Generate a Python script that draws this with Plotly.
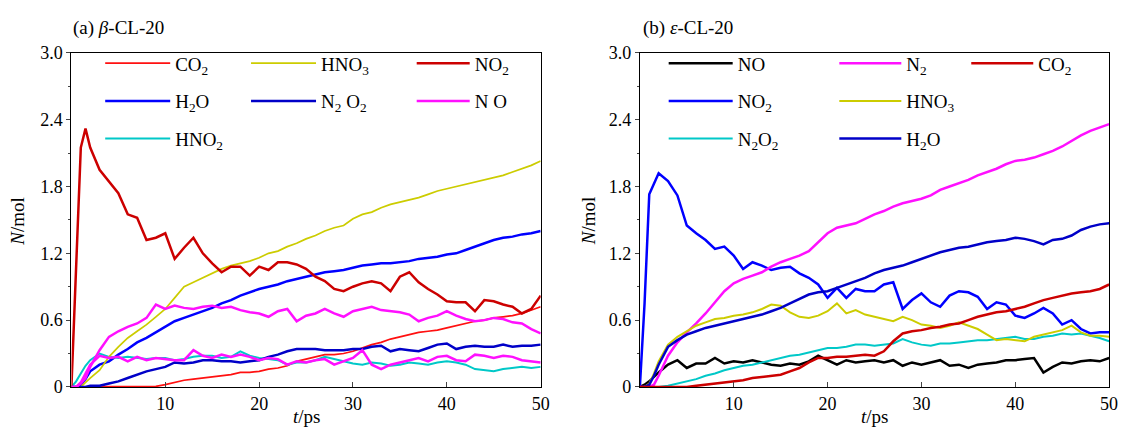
import plotly.graph_objects as go

# time axis (ps)
t = [0, 0.5, 1, 1.5, 2] + list(range(3, 51))

# ---------- panel (a) beta-CL-20 ----------
a_CO2 = [0, 0, 0, 0, 0, 0, 0, 0, 0, 0, 0, 0.005, 0.02, 0.04, 0.06, 0.07, 0.08, 0.09, 0.10, 0.11,
         0.13, 0.13, 0.14, 0.16, 0.17, 0.19, 0.23, 0.25, 0.27, 0.29, 0.29, 0.30, 0.32, 0.35, 0.38,
         0.40, 0.43, 0.45, 0.47, 0.49, 0.50, 0.51, 0.53, 0.55, 0.57, 0.59, 0.60, 0.62, 0.63, 0.64,
         0.66, 0.69, 0.72]
a_HNO3 = [0, 0, 0, 0.04, 0.08, 0.15, 0.27, 0.36, 0.44, 0.50, 0.56, 0.63, 0.70, 0.80, 0.90, 0.94,
          0.98, 1.02, 1.06, 1.09, 1.11, 1.13, 1.16, 1.20, 1.22, 1.26, 1.29, 1.33, 1.36, 1.40, 1.43,
          1.45, 1.51, 1.55, 1.57, 1.61, 1.64, 1.66, 1.68, 1.70, 1.73, 1.76, 1.78, 1.80, 1.82, 1.84,
          1.86, 1.88, 1.90, 1.93, 1.96, 1.99, 2.03]
a_NO2 = [0, 1.10, 2.15, 2.32, 2.15, 1.95, 1.85, 1.74, 1.55, 1.52, 1.32, 1.34, 1.38, 1.15, 1.25,
         1.34, 1.20, 1.11, 1.03, 1.08, 1.08, 1.00, 1.08, 1.05, 1.12, 1.12, 1.10, 1.06, 0.99, 0.95,
         0.88, 0.86, 0.90, 0.93, 0.95, 0.93, 0.86, 0.99, 1.03, 0.94, 0.88, 0.83, 0.77, 0.76, 0.76,
         0.68, 0.78, 0.77, 0.74, 0.72, 0.66, 0.70, 0.82]
a_H2O = [0, 0, 0.02, 0.07, 0.14, 0.20, 0.23, 0.29, 0.34, 0.40, 0.44, 0.49, 0.54, 0.59, 0.62, 0.65,
         0.68, 0.71, 0.75, 0.78, 0.82, 0.85, 0.88, 0.90, 0.92, 0.95, 0.97, 0.99, 1.01, 1.03, 1.04,
         1.05, 1.07, 1.09, 1.10, 1.11, 1.11, 1.12, 1.13, 1.15, 1.16, 1.17, 1.19, 1.20, 1.23, 1.26,
         1.29, 1.32, 1.34, 1.35, 1.37, 1.38, 1.40]
a_N2O2 = [0, 0, 0, 0, 0.01, 0.01, 0.03, 0.05, 0.08, 0.11, 0.14, 0.16, 0.18, 0.22, 0.21, 0.22, 0.24,
          0.24, 0.23, 0.23, 0.22, 0.23, 0.24, 0.27, 0.29, 0.32, 0.34, 0.34, 0.34, 0.33, 0.33, 0.33,
          0.34, 0.34, 0.36, 0.37, 0.32, 0.34, 0.33, 0.32, 0.35, 0.38, 0.39, 0.34, 0.36, 0.37, 0.36,
          0.36, 0.38, 0.36, 0.37, 0.37, 0.38]
a_NO = [0, 0, 0.03, 0.08, 0.18, 0.33, 0.45, 0.50, 0.54, 0.57, 0.62, 0.74, 0.70, 0.73, 0.71, 0.70,
        0.72, 0.73, 0.71, 0.72, 0.69, 0.67, 0.66, 0.63, 0.68, 0.70, 0.59, 0.64, 0.66, 0.70, 0.66,
        0.63, 0.68, 0.70, 0.72, 0.69, 0.68, 0.67, 0.65, 0.59, 0.62, 0.64, 0.68, 0.64, 0.61, 0.59,
        0.60, 0.62, 0.61, 0.58, 0.57, 0.52, 0.48]
a_NO_low = [0, 0, 0.04, 0.12, 0.20, 0.28, 0.26, 0.27, 0.23, 0.27, 0.24, 0.26, 0.25, 0.24, 0.24,
            0.33, 0.28, 0.26, 0.29, 0.27, 0.29, 0.27, 0.24, 0.26, 0.25, 0.20, 0.23, 0.22, 0.24,
            0.25, 0.20, 0.23, 0.26, 0.33, 0.20, 0.16, 0.20, 0.22, 0.24, 0.26, 0.23, 0.27, 0.28,
            0.24, 0.23, 0.29, 0.28, 0.26, 0.28, 0.27, 0.24, 0.23, 0.22]
a_HNO2 = [0, 0.05, 0.12, 0.19, 0.24, 0.30, 0.27, 0.26, 0.27, 0.26, 0.25, 0.26, 0.26, 0.24, 0.25,
          0.27, 0.28, 0.28, 0.26, 0.27, 0.32, 0.28, 0.26, 0.25, 0.24, 0.20, 0.22, 0.22, 0.24, 0.27,
          0.25, 0.23, 0.21, 0.20, 0.22, 0.21, 0.19, 0.20, 0.22, 0.21, 0.20, 0.22, 0.23, 0.22, 0.20,
          0.16, 0.15, 0.14, 0.16, 0.17, 0.18, 0.17, 0.18]

# ---------- panel (b) epsilon-CL-20 ----------
b_NO = [0, 0.02, 0.05, 0.09, 0.13, 0.20, 0.24, 0.17, 0.21, 0.21, 0.26, 0.21, 0.23, 0.22, 0.24,
        0.22, 0.20, 0.19, 0.21, 0.20, 0.23, 0.28, 0.24, 0.20, 0.24, 0.22, 0.23, 0.24, 0.22, 0.24,
        0.19, 0.22, 0.20, 0.22, 0.24, 0.19, 0.20, 0.17, 0.20, 0.21, 0.22, 0.24, 0.24, 0.25, 0.26,
        0.13, 0.18, 0.22, 0.21, 0.23, 0.24, 0.23, 0.26]
b_N2 = [0, 0, 0, 0.02, 0.10, 0.28, 0.40, 0.49, 0.57, 0.66, 0.76, 0.86, 0.93, 0.97, 1.00, 1.03,
        1.08, 1.12, 1.15, 1.18, 1.22, 1.30, 1.38, 1.43, 1.45, 1.47, 1.51, 1.55, 1.58, 1.62, 1.65,
        1.67, 1.69, 1.72, 1.77, 1.80, 1.83, 1.86, 1.90, 1.93, 1.96, 2.00, 2.03, 2.04, 2.06, 2.09,
        2.12, 2.16, 2.21, 2.26, 2.30, 2.33, 2.36]
b_CO2 = [0, 0, 0, 0, 0, 0, 0, 0, 0.01, 0.02, 0.03, 0.04, 0.05, 0.06, 0.08, 0.09, 0.10, 0.11, 0.14,
         0.17, 0.22, 0.26, 0.26, 0.27, 0.27, 0.28, 0.29, 0.28, 0.32, 0.41, 0.48, 0.50, 0.51, 0.53,
         0.54, 0.56, 0.57, 0.60, 0.63, 0.65, 0.67, 0.68, 0.70, 0.72, 0.75, 0.78, 0.80, 0.82, 0.84,
         0.85, 0.86, 0.88, 0.92]
b_NO2 = [0, 0.75, 1.73, 1.82, 1.92, 1.85, 1.72, 1.45, 1.38, 1.32, 1.24, 1.26, 1.18, 1.06, 1.12,
         1.09, 1.05, 1.07, 1.08, 1.02, 0.98, 0.92, 0.80, 0.89, 0.80, 0.88, 0.86, 0.86, 0.92, 0.94,
         0.70, 0.78, 0.84, 0.76, 0.72, 0.82, 0.86, 0.85, 0.81, 0.70, 0.76, 0.74, 0.64, 0.62, 0.66,
         0.71, 0.66, 0.56, 0.60, 0.52, 0.48, 0.49, 0.49]
b_HNO3 = [0, 0, 0.03, 0.12, 0.23, 0.38, 0.45, 0.50, 0.55, 0.58, 0.61, 0.62, 0.64, 0.65, 0.67,
          0.70, 0.74, 0.73, 0.67, 0.63, 0.62, 0.64, 0.68, 0.75, 0.66, 0.69, 0.65, 0.63, 0.61, 0.59,
          0.63, 0.60, 0.56, 0.55, 0.53, 0.55, 0.58, 0.55, 0.52, 0.47, 0.42, 0.43, 0.42, 0.41, 0.45,
          0.47, 0.49, 0.51, 0.55, 0.49, 0.46, 0.46, 0.45]
b_N2O2 = [0, 0, 0, 0, 0, 0.01, 0.03, 0.05, 0.07, 0.10, 0.12, 0.15, 0.17, 0.19, 0.20, 0.22, 0.24,
          0.26, 0.28, 0.29, 0.31, 0.33, 0.35, 0.35, 0.36, 0.38, 0.38, 0.37, 0.38, 0.39, 0.43, 0.40,
          0.38, 0.37, 0.39, 0.39, 0.40, 0.41, 0.42, 0.42, 0.43, 0.44, 0.45, 0.43, 0.43, 0.45, 0.46,
          0.48, 0.47, 0.48, 0.46, 0.44, 0.41]
b_H2O = [0, 0, 0.02, 0.10, 0.20, 0.36, 0.42, 0.47, 0.50, 0.53, 0.55, 0.57, 0.59, 0.61, 0.63, 0.65,
         0.68, 0.71, 0.75, 0.79, 0.83, 0.85, 0.86, 0.89, 0.92, 0.95, 0.98, 1.02, 1.05, 1.07, 1.09,
         1.12, 1.15, 1.18, 1.21, 1.23, 1.25, 1.26, 1.28, 1.30, 1.31, 1.32, 1.34, 1.33, 1.31, 1.28,
         1.32, 1.33, 1.36, 1.41, 1.44, 1.46, 1.47]

x_ticks = [10, 20, 30, 40, 50]
y_ticks = [0, 0.6, 1.2, 1.8, 2.4, 3.0]
y_labels = ["0", "0.6", "1.2", "1.8", "2.4", "3.0"]

FONT = "Liberation Serif"
W, H = 1132, 437

fig = go.Figure()

# (name, data, colour, width, xaxis, legend)
series = [
    ("CO<sub>2</sub>", a_CO2, "#ff1010", 1.7, "x", "legend"),
    ("H<sub>2</sub>O", a_H2O, "#0000ff", 2.5, "x", "legend"),
    ("HNO<sub>2</sub>", a_HNO2, "#00c8c8", 2.0, "x", "legend"),
    ("HNO<sub>3</sub>", a_HNO3, "#cccc00", 1.7, "x", "legend2"),
    ("N<sub>2</sub> O<sub>2</sub>", a_N2O2, "#0000c8", 2.5, "x", "legend2"),
    ("NO<sub>2</sub>", a_NO2, "#cc0000", 2.5, "x", "legend3"),
    ("N O", a_NO, "#ff10ff", 2.5, "x", "legend3"),
    ("N O (2)", a_NO_low, "#ff10ff", 2.5, "x", None),
    ("NO", b_NO, "#000000", 2.5, "x2", "legend4"),
    ("NO<sub>2</sub>", b_NO2, "#0000ff", 2.5, "x2", "legend4"),
    ("N<sub>2</sub>O<sub>2</sub>", b_N2O2, "#00c8c8", 2.0, "x2", "legend4"),
    ("N<sub>2</sub>", b_N2, "#ff10ff", 2.5, "x2", "legend5"),
    ("HNO<sub>3</sub>", b_HNO3, "#cccc00", 2.0, "x2", "legend5"),
    ("H<sub>2</sub>O", b_H2O, "#0000c8", 2.5, "x2", "legend5"),
    ("CO<sub>2</sub>", b_CO2, "#cc0000", 2.5, "x2", "legend6"),
]

for i, (name, y, col, lw, xa, lg) in enumerate(series):
    fig.add_trace(go.Scatter(
        x=t, y=y, mode="lines", name=name,
        line=dict(color=col, width=lw),
        xaxis=xa, yaxis="y" if xa == "x" else "y2",
        legend=lg if lg else "legend",
        showlegend=lg is not None,
        legendgroup=f"g{i}",
    ))

def px_x(p):
    return p / W

def px_y(p):
    return 1 - p / H

ya0, ya1 = px_y(395), px_y(45)
axis_common = dict(
    showline=True, linecolor="black", linewidth=1.2, mirror=True,
    showgrid=False, zeroline=False,
    tickfont=dict(family=FONT, size=18, color="black"),
)
minor_y = dict(tickvals=[0.3, 0.9, 1.5, 2.1, 2.7], ticks="outside", ticklen=2)
fig.update_layout(
    width=W, height=H,
    margin=dict(l=0, r=0, t=0, b=0),
    paper_bgcolor="white", plot_bgcolor="white",
    font=dict(family=FONT, color="black"),
    xaxis=dict(domain=[px_x(72), px_x(545)], range=[0, 50], tickvals=x_ticks,
               ticks="inside", ticklen=5, anchor="y", **axis_common),
    yaxis=dict(domain=[ya0, ya1], range=[0, 3.0], tickvals=y_ticks, ticktext=y_labels,
               ticks="outside", ticklen=4, anchor="x", minor=minor_y, **axis_common),
    xaxis2=dict(domain=[px_x(645), px_x(1118)], range=[0, 50], tickvals=x_ticks,
                ticks="inside", ticklen=5, anchor="y2", **axis_common),
    yaxis2=dict(domain=[ya0, ya1], range=[0, 3.0], tickvals=y_ticks, ticktext=y_labels,
                ticks="outside", ticklen=4, anchor="x2", minor=minor_y, **axis_common),
)

leg_common = dict(orientation="v", bgcolor="rgba(0,0,0,0)", borderwidth=0,
                  font=dict(family=FONT, size=19, color="black"),
                  tracegroupgap=10, yanchor="top", xanchor="left",
                  xref="paper", yref="paper", itemclick=False, itemdoubleclick=False)
# legend key -> (left x in px, symbol width)
leg_pos = {
    "legend": (101, 65), "legend2": (248, 65), "legend3": (415, 53),
    "legend4": (669, 64), "legend5": (841, 62), "legend6": (974, 62),
}
for key, (xp, iw) in leg_pos.items():
    fig.update_layout({key: dict(x=px_x(xp), y=px_y(36), itemwidth=iw, **leg_common)})

ann = [
    dict(text="(a) <i>β</i>-CL-20", x=px_x(72), y=px_y(19)),
    dict(text="(b) <i>ε</i>-CL-20", x=px_x(646), y=px_y(19)),
]
for a in ann:
    fig.add_annotation(xref="paper", yref="paper", xanchor="left", yanchor="middle",
                       showarrow=False, font=dict(family=FONT, size=19, color="black"), **a)

for cx in [(72 + 545) / 2, (645 + 1118) / 2]:
    fig.add_annotation(text="<i>t</i>/ps", xref="paper", yref="paper",
                       x=px_x(cx), y=px_y(426), xanchor="center", yanchor="middle",
                       showarrow=False, font=dict(family=FONT, size=19, color="black"))
for cx in [18, 594]:
    fig.add_annotation(text="<i>N</i>/mol", xref="paper", yref="paper",
                       x=px_x(cx), y=px_y(221), xanchor="center", yanchor="middle",
                       textangle=-90, showarrow=False,
                       font=dict(family=FONT, size=19, color="black"))

fig.write_html("out.html",
               config={"displayModeBar": False},
               post_script="document.body.style.margin='0px';"
                           "document.body.style.overflow='hidden';")
